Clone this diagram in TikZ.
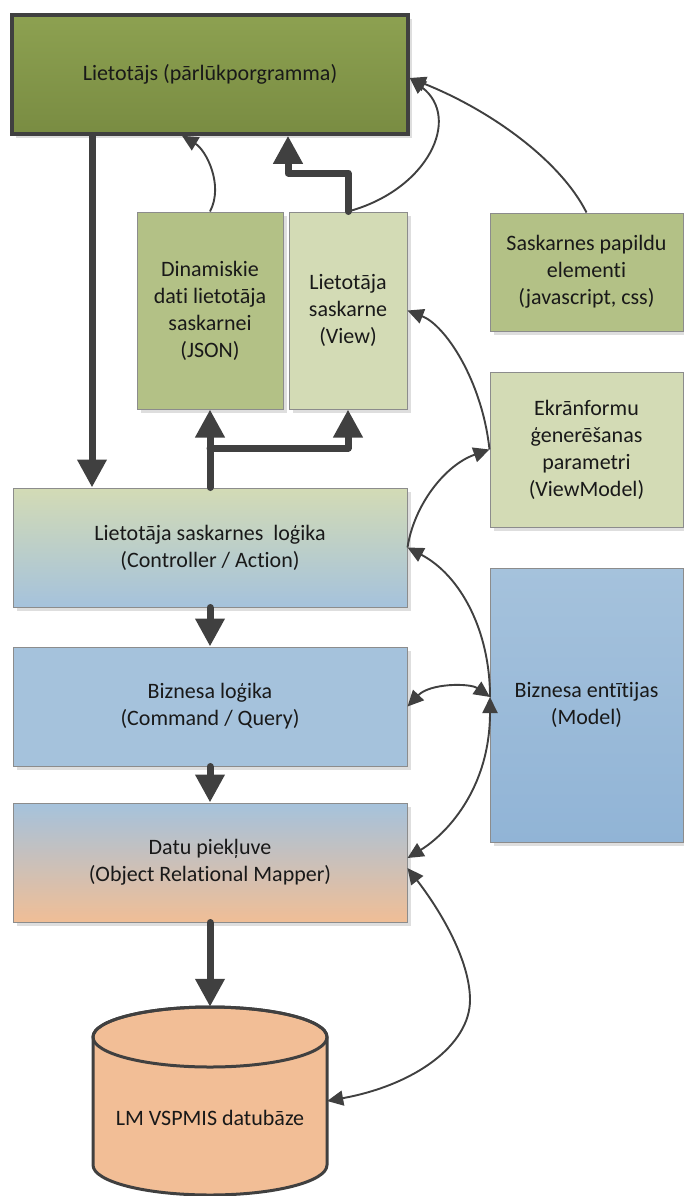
\documentclass[tikz,border=0pt]{standalone}
\usepackage{fontspec}
\setmainfont[Ligatures={NoCommon,NoContextual,NoRare},RawFeature={-liga;-clig;-calt;-dlig}]{Carlito}
\usetikzlibrary{arrows.meta,shadows}
\definecolor{dk}{RGB}{64,64,64}
\definecolor{bd}{RGB}{140,140,140}
\definecolor{txt}{RGB}{25,25,25}
\definecolor{oliveT}{RGB}{141,161,81}
\definecolor{oliveB}{RGB}{121,140,66}
\definecolor{midg}{RGB}{179,193,134}
\definecolor{lightg}{RGB}{211,219,181}
\definecolor{blu}{RGB}{165,194,220}
\definecolor{bluB}{RGB}{145,180,214}
\definecolor{peach}{RGB}{240,190,150}
\definecolor{dbc}{RGB}{242,190,150}
\begin{document}
\begin{tikzpicture}[x=1pt,y=-1pt,
  box/.style={rectangle, draw=bd, line width=1pt, inner sep=0pt, align=center,
    font=\fontsize{22}{27}\selectfont, text=txt,
    drop shadow={shadow xshift=4pt, shadow yshift=-4pt, fill=black!13, opacity=1}},
  thk/.style={draw=dk, line width=7pt, line join=round, line cap=round,
    -{Triangle[length=28pt,width=28pt]}},
  thn/.style={draw=dk, line width=1.9pt, -{Triangle[length=16pt,width=15pt]}},
  thnb/.style={draw=dk, line width=1.9pt, {Triangle[length=16pt,width=15pt]}-{Triangle[length=16pt,width=15pt]}}
]
\useasboundingbox (0,0) rectangle (684,1196);

% boxes
\node[box, draw=dk, line width=3.5pt, top color=oliveT, bottom color=oliveB,
  minimum width=396pt, minimum height=119pt] (top) at (210,74.5) {Lietotājs (pārlūkporgramma)};
\node[box, fill=midg, minimum width=146pt, minimum height=197pt] (json) at (210,310.5)
  {Dinamiskie\\dati lietotāja\\saskarnei\\(JSON)};
\node[box, fill=lightg, minimum width=118pt, minimum height=197pt] (view) at (348,310.5)
  {Lietotāja\\saskarne\\(View)};
\node[box, fill=midg, minimum width=193pt, minimum height=118pt] (sask) at (586.5,272)
  {Saskarnes papildu\\elementi\\(javascript, css)};
\node[box, fill=lightg, minimum width=193pt, minimum height=155pt] (ekr) at (586.5,449.5)
  {Ekrānformu\\ģenerēšanas\\parametri\\(ViewModel)};
\node[box, top color=blu, bottom color=bluB, minimum width=193pt, minimum height=274pt] (ent) at (586.5,705)
  {Biznesa entītijas\\(Model)};
\node[box, top color=lightg, bottom color=blu, minimum width=394pt, minimum height=119pt] (ctl) at (210,547.5)
  {Lietotāja saskarnes\hspace{0.45em}loģika\\(Controller / Action)};
\node[box, fill=blu, minimum width=394pt, minimum height=119pt] (logic) at (210,706.5)
  {Biznesa loģika\\(Command / Query)};
\node[box, top color=blu, bottom color=peach, minimum width=394pt, minimum height=119pt] (datu) at (210,862.5)
  {Datu piekļuve\\(Object Relational Mapper)};

% database cylinder
\filldraw[fill=dbc, draw=dk, line width=3pt, line join=round]
  (93,1037) -- (93,1165) arc[start angle=180,end angle=360,x radius=117pt,y radius=30pt]
  -- (327,1037) arc[start angle=0,end angle=180,x radius=117pt,y radius=30pt] -- cycle;
\draw[dk, line width=3pt] (210,1037) ellipse[x radius=117pt, y radius=30pt];
\node[inner sep=0pt, minimum width=234pt, minimum height=188pt] (db) at (210,1101) {};
\node[font=\fontsize{22}{27}\selectfont, text=txt, inner sep=0pt] (dbl) at (210,1118) {LM VSPMIS datubāze};

% coordinates
\coordinate (br) at (210,448);
\coordinate (bend) at (288,173);
\coordinate (eW) at (490,697);

% thick arrows
\draw[thk] ([xshift=-118pt]top.south) -- ([xshift=-118pt]ctl.north);
\draw[thk] (ctl.north) -- (json.south);
\draw[thk] (br) -| (view.south);
\draw[thk] (view.north) |- (bend) -- (top.south -| bend);
\draw[thk] (ctl.south) -- (logic.north);
\draw[thk] (logic.south) -- (datu.north);
\draw[thk] (datu.south) -- (db.north);

% thin arrows
\draw[thn] (json.north) .. controls (224,185) and (206,150) .. ([xshift=-28pt]top.south);
\draw[thn] (view.north) .. controls (428,190) and (462,118) .. ([yshift=-3.5pt]top.east);
\draw[thn] (sask.north) .. controls (560,160) and (490,110) .. ([yshift=-3.5pt]top.east);
\draw[thn] (ekr.west) .. controls (482,380) and (445,325) .. (view.east);
\draw[thn] (ctl.east) .. controls (414,505) and (445,465) .. (ekr.west);
\draw[thn] (eW) .. controls (490,630) and (460,575) .. (ctl.east);
\draw[thnb] (logic.east) .. controls (430,683) and (470,683) .. (eW);
\draw[thnb] ([yshift=4.5pt]datu.east) .. controls (445,835) and (490,790) .. (eW);
\draw[thnb] ([yshift=-5.5pt]datu.east) .. controls (440,910) and (470,960) .. (470,1000)
  .. controls (470,1045) and (415,1085) .. (db.east);
\end{tikzpicture}
\end{document}
